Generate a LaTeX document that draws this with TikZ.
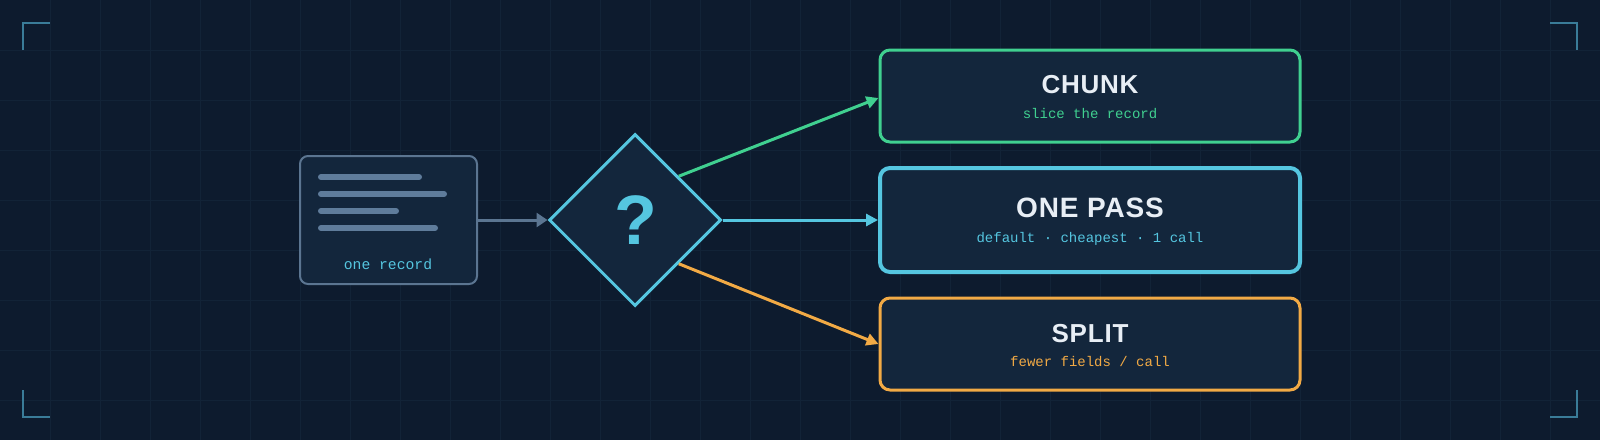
\documentclass[tikz,border=0pt]{standalone}
\usepackage{fontspec}
\setmainfont{Liberation Sans}
\newfontfamily\monof{Liberation Mono}
\newfontfamily\titlef[LetterSpace=3]{Liberation Sans Bold}
\usetikzlibrary{shapes.geometric,arrows.meta,calc}
\definecolor{bg}{HTML}{0D1B2E}
\definecolor{gridc}{HTML}{122337}
\definecolor{boxfill}{HTML}{13263C}
\definecolor{greyc}{HTML}{5B7591}
\definecolor{barc}{HTML}{5F7C9B}
\definecolor{cyanc}{HTML}{55C6E0}
\definecolor{greenc}{HTML}{40D090}
\definecolor{orangec}{HTML}{F2AA45}
\definecolor{titlec}{HTML}{E8EEF5}
\definecolor{bracketc}{HTML}{3A7C98}
\tikzset{
  outbox/.style={draw, fill=boxfill, rounded corners=10pt, minimum width=420pt, minimum height=92pt, inner sep=0pt, line width=3pt},
  titletext/.style={font=\titlef\fontsize{26}{30}\selectfont, text=titlec, anchor=base, inner sep=0pt},
  subtext/.style={font=\monof\fontsize{14}{16}\selectfont, anchor=base, inner sep=0pt},
  conn/.style={line width=3pt, -{Triangle[length=12pt,width=12pt]}},
  textbar/.style={line width=6pt, line cap=round, draw=barc},
  bracket/.style={line width=2pt, draw=bracketc},
  gridline/.style={line width=1pt, draw=gridc}
}
\begin{document}
\begin{tikzpicture}[x=1pt,y=-1pt]
\useasboundingbox (0,0) rectangle (1600,440);
\fill[bg] (0,0) rectangle (1600,440);
\foreach \x in {50,100,...,1550} \draw[gridline] (\x,0) -- (\x,440);
\foreach \y in {50,100,...,400} \draw[gridline] (0,\y) -- (1600,\y);
% corner brackets
\draw[bracket] (23,50) -- (23,23) -- (50,23);
\draw[bracket] (1550,23) -- (1577,23) -- (1577,50);
\draw[bracket] (23,390) -- (23,417) -- (50,417);
\draw[bracket] (1550,417) -- (1577,417) -- (1577,390);
% record
\node[draw=greyc, fill=boxfill, line width=2pt, rounded corners=8pt, minimum width=177pt, minimum height=128pt, inner sep=0pt] (record) at (388.5,220) {};
\draw[textbar] (321,177) -- (419,177);
\draw[textbar] (321,194) -- (444,194);
\draw[textbar] (321,211) -- (396,211);
\draw[textbar] (321,228) -- (435,228);
\node[subtext, font=\monof\fontsize{14.7}{16}\selectfont, text=cyanc] (recordlbl) at (388,269) {one record};
% decision
\node[diamond, aspect=1, draw=cyanc, fill=boxfill, line width=3pt, minimum width=172pt, minimum height=172pt, inner sep=0pt] (dec) at (635,220) {};
\node[font=\fontsize{70}{80}\selectfont\bfseries, text=cyanc, inner sep=0pt] (q) at (636,220) {?};
% outcome boxes
\node[outbox, draw=greenc] (chunk) at (1090,96) {};
\node[outbox, draw=cyanc, line width=4pt, minimum height=104pt] (onepass) at (1090,220) {};
\node[outbox, draw=orangec] (split) at (1090,344) {};
\node[titletext] (chunkT) at ($(chunk.center)+(0,-3)$) {CHUNK};
\node[subtext, text=greenc] (chunkS) at ($(chunk.center)+(0,22)$) {slice the record};
\node[titletext, font=\titlef\fontsize{28}{32}\selectfont] (onepassT) at ($(onepass.center)+(0,-3)$) {ONE PASS};
\node[subtext, text=cyanc] (onepassS) at ($(onepass.center)+(0,22)$) {default · cheapest · 1 call};
\node[titletext] (splitT) at ($(split.center)+(0,-2)$) {SPLIT};
\node[subtext, text=orangec] (splitS) at ($(split.center)+(0,22)$) {fewer fields / call};
% connectors
\draw[conn, greyc, -{Triangle[length=11pt,width=14pt]}] (record.east) -- (dec.west);
\draw[conn, greenc] ($(dec.north)!0.5!(dec.east)$) -- ($(chunk.west)+(0,2)$);
\draw[conn, cyanc] (dec.east) -- (onepass.west);
\draw[conn, orangec] ($(dec.south)!0.5!(dec.east)$) -- (split.west);
\end{tikzpicture}
\end{document}
